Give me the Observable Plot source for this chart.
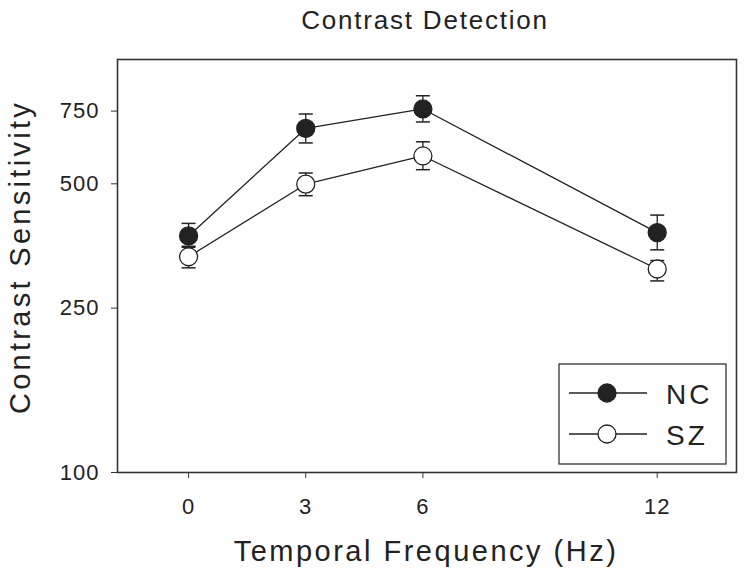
<!DOCTYPE html>
<html>
<head>
<meta charset="utf-8">
<script src="https://cdn.jsdelivr.net/npm/d3@7"></script>
<script src="https://cdn.jsdelivr.net/npm/@observablehq/plot@0.6"></script>
<style>
  html, body { margin: 0; padding: 0; background: #fff; }
  #chart { position: relative; width: 750px; height: 575px; }
  #chart svg { font-family: "Liberation Sans", Arial, sans-serif; }
  g[aria-label="y-axis tick label"] text,
  g[aria-label="x-axis tick label"] text { letter-spacing: 1px; }
</style>
</head>
<body>
<div id="chart"></div>
<script>
// ---- data ----
const freqs = [0, 3, 6, 12];
const ncMean  = [374, 681, 759, 381];
const ncUpper = [401, 738, 817, 420];
const ncLower = [351, 628, 706, 346];
const szMean  = [333, 499, 584, 311];
const szUpper = [353, 531, 632, 326];
const szLower = [313, 468, 541, 291];
const xTicks = [0, 3, 6, 12];
const yTicks = [100, 250, 500, 750];
const seriesNames = ["NC", "SZ"];
const title = "Contrast Detection";
const xLabel = "Temporal Frequency (Hz)";
const yLabel = "Contrast Sensitivity";

const nc = freqs.map((f, i) => ({f, mean: ncMean[i], hi: ncUpper[i], lo: ncLower[i]}));
const sz = freqs.map((f, i) => ({f, mean: szMean[i], hi: szUpper[i], lo: szLower[i]}));

const ink = "#222";
const cap = { draw(ctx) { ctx.moveTo(-7, 0); ctx.lineTo(7, 0); } };

function errMarks(data) {
  return [
    Plot.ruleX(data, {x: "f", y1: "lo", y2: "hi", stroke: ink, strokeWidth: 1.3}),
    Plot.dot(data, {x: "f", y: "hi", symbol: cap, fill: "none", stroke: ink, strokeWidth: 1.5}),
    Plot.dot(data, {x: "f", y: "lo", symbol: cap, fill: "none", stroke: ink, strokeWidth: 1.5})
  ];
}

const chart = Plot.plot({
  width: 750,
  height: 575,
  marginLeft: 117,
  marginRight: 14,
  marginTop: 59,
  marginBottom: 103,
  style: {background: "#fff", color: ink, fontFamily: "Liberation Sans, Arial, sans-serif"},
  x: {domain: [-1.82, 14.03]},
  y: {type: "log", domain: [100, 1000]},
  marks: [
    Plot.axisY({ticks: yTicks, tickSize: 6, tickPadding: 12, tickFormat: d => String(d), fontSize: 22, label: null, stroke: "#333"}),
    Plot.axisX({ticks: xTicks, tickSize: 6, tickPadding: 20, tickFormat: d => String(d), fontSize: 22, label: null, stroke: "#333"}),
    Plot.line(nc, {x: "f", y: "mean", stroke: ink, strokeWidth: 1.3}),
    Plot.line(sz, {x: "f", y: "mean", stroke: ink, strokeWidth: 1.3}),
    ...errMarks(sz),
    ...errMarks(nc),
    Plot.dot(sz, {x: "f", y: "mean", r: 9, fill: "#fff", stroke: ink, strokeWidth: 1.3}),
    Plot.dot(nc, {x: "f", y: "mean", r: 9, fill: ink, stroke: ink, strokeWidth: 1.3}),
    Plot.frame({stroke: "#333", strokeWidth: 1.6})
  ]
});

document.getElementById("chart").appendChild(chart);

// ---- titles (decoration) ----
const svg = d3.select(chart);
svg.append("text")
  .attr("x", 425).attr("y", 29)
  .attr("text-anchor", "middle")
  .attr("font-size", 26).attr("letter-spacing", "1.8px")
  .attr("fill", ink)
  .text(title);
svg.append("text")
  .attr("x", 426).attr("y", 561)
  .attr("text-anchor", "middle")
  .attr("font-size", 29).attr("letter-spacing", "2.5px")
  .attr("fill", ink)
  .text(xLabel);
svg.append("text")
  .attr("transform", "translate(30,257) rotate(-90)")
  .attr("text-anchor", "middle")
  .attr("font-size", 29).attr("letter-spacing", "3.3px")
  .attr("fill", ink)
  .text(yLabel);

// ---- legend ----
const lg = svg.append("g");
lg.append("rect").attr("x", 559).attr("y", 364).attr("width", 167).attr("height", 100)
  .attr("fill", "#fff").attr("stroke", "#333").attr("stroke-width", 1.3);
const fills = [ink, "#fff"];
const rowsY = [393, 434];
seriesNames.forEach((name, i) => {
  const y = rowsY[i];
  lg.append("line").attr("x1", 569).attr("x2", 647).attr("y1", y).attr("y2", y)
    .attr("stroke", ink).attr("stroke-width", 1.3);
  lg.append("circle").attr("cx", 607).attr("cy", y).attr("r", 9)
    .attr("fill", fills[i]).attr("stroke", ink).attr("stroke-width", 1.3);
  lg.append("text").attr("x", 666).attr("y", y + 11)
    .attr("text-anchor", "start")
    .attr("font-size", 28).attr("letter-spacing", "3px").attr("fill", ink)
    .text(name);
});
</script>
</body>
</html>
